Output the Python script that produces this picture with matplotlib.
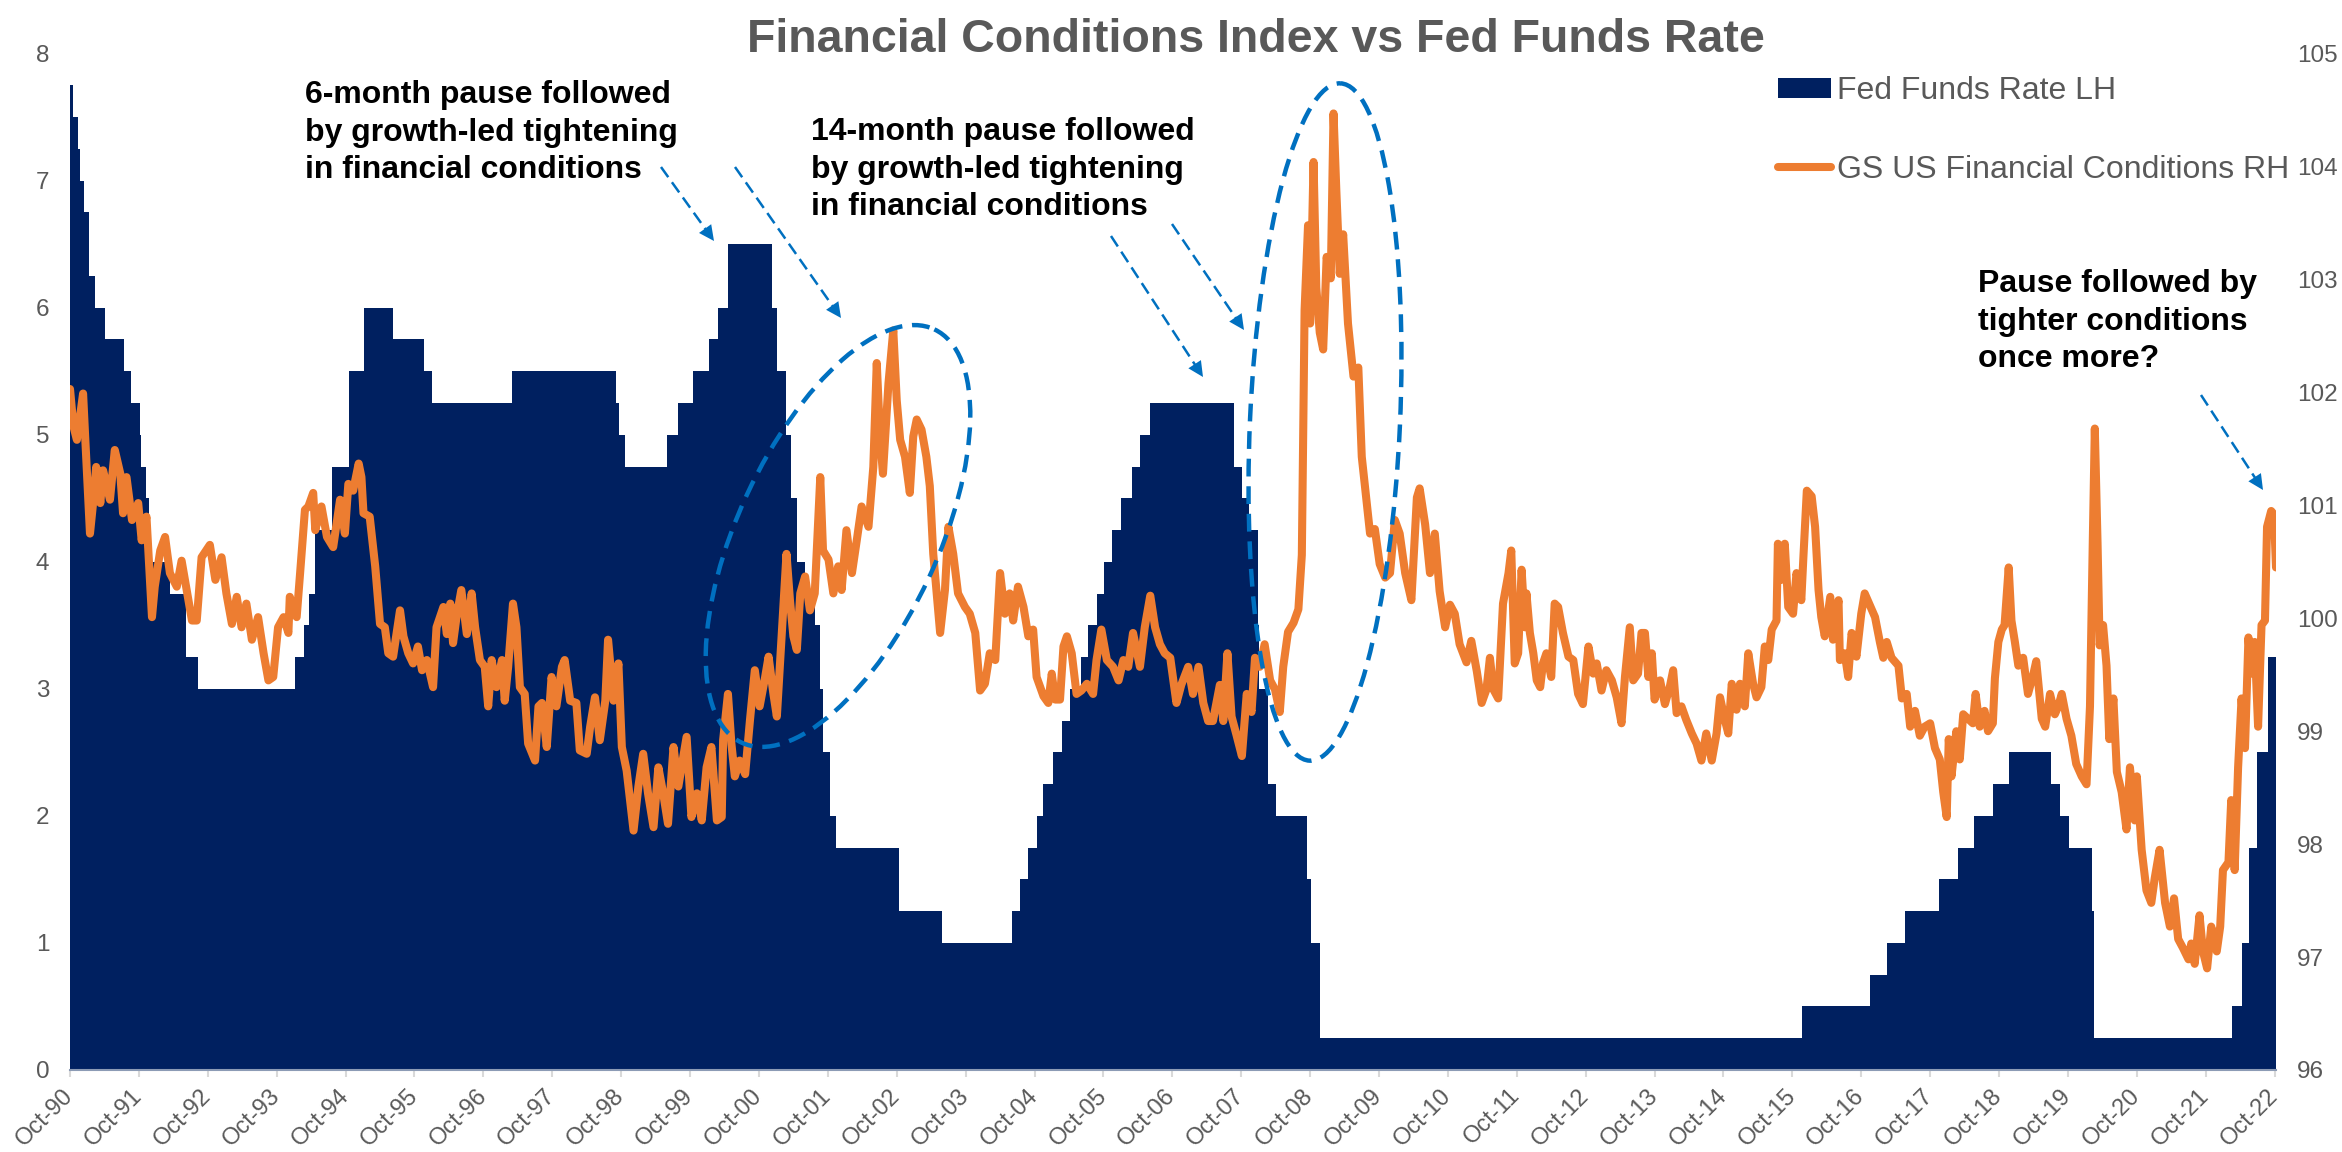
import matplotlib
matplotlib.use('Agg')
import matplotlib.pyplot as plt
import matplotlib.transforms as mtransforms
from matplotlib.patches import Ellipse, Patch, FancyArrowPatch
from matplotlib.lines import Line2D

plt.rcParams['font.family'] = ['Liberation Sans', 'DejaVu Sans']

# Fed funds target (upper bound), change points as placed on the chart's time axis
ff_years = [1990.75, 1990.80, 1990.86, 1990.89, 1990.95, 1991.02, 1991.11, 1991.26, 1991.53, 1991.63,
            1991.76, 1991.78, 1991.86, 1991.90, 1992.20, 1992.43, 1992.61, 1994.02, 1994.15, 1994.22,
            1994.30, 1994.55, 1994.80, 1995.02, 1995.44, 1995.89, 1996.01, 1997.16, 1998.67, 1998.72,
            1998.81, 1999.42, 1999.58, 1999.80, 2000.02, 2000.15, 2000.30, 2000.94, 2001.01, 2001.14,
            2001.22, 2001.30, 2001.42, 2001.57, 2001.64, 2001.68, 2001.78, 2001.87, 2002.78, 2003.41,
            2004.43, 2004.54, 2004.65, 2004.79, 2004.88, 2005.02, 2005.15, 2005.26, 2005.42, 2005.53,
            2005.65, 2005.76, 2005.88, 2006.01, 2006.17, 2006.28, 2006.42, 2007.64, 2007.76, 2007.87,
            2007.99, 2008.01, 2008.14, 2008.26, 2008.70, 2008.76, 2008.89, 2015.89, 2016.88, 2017.13,
            2017.38, 2017.88, 2018.15, 2018.38, 2018.66, 2018.89, 2019.51, 2019.64, 2019.76, 2020.10,
            2020.13, 2022.13, 2022.27, 2022.38, 2022.50, 2022.65, 2022.77]
ff_rates = [7.75, 7.5, 7.25, 7.0, 6.75, 6.25, 6.0, 5.75, 5.5, 5.25,
            5.0, 4.75, 4.5, 4.0, 3.75, 3.25, 3.0, 3.25, 3.5, 3.75,
            4.25, 4.75, 5.5, 6.0, 5.75, 5.5, 5.25, 5.5, 5.25, 5.0,
            4.75, 5.0, 5.25, 5.5, 5.75, 6.0, 6.5, 6.0, 5.5, 5.0,
            4.5, 4.0, 3.75, 3.5, 3.0, 2.5, 2.0, 1.75, 1.25, 1.0,
            1.25, 1.5, 1.75, 2.0, 2.25, 2.5, 2.75, 3.0, 3.25, 3.5,
            3.75, 4.0, 4.25, 4.5, 4.75, 5.0, 5.25, 4.75, 4.5, 4.25,
            3.5, 3.0, 2.25, 2.0, 1.5, 1.0, 0.25, 0.5, 0.75, 1.0,
            1.25, 1.5, 1.75, 2.0, 2.25, 2.5, 2.25, 2.0, 1.75, 1.25,
            0.25, 0.5, 1.0, 1.75, 2.5, 3.25, 3.25]

# GS US Financial Conditions Index
fci_years = [
    1990.75, 1990.80, 1990.85, 1990.94, 1990.97, 1991.04, 1991.09, 1991.13, 1991.19, 1991.23,
    1991.33, 1991.40, 1991.48, 1991.52, 1991.57, 1991.65, 1991.74, 1991.79, 1991.86, 1991.94,
    1991.98, 1992.06, 1992.13, 1992.20, 1992.30, 1992.37, 1992.47, 1992.52, 1992.59, 1992.66,
    1992.78, 1992.86, 1992.95, 1993.02, 1993.10, 1993.17, 1993.24, 1993.31, 1993.39, 1993.48,
    1993.56, 1993.63, 1993.70, 1993.77, 1993.85, 1993.92, 1993.94, 1994.04, 1994.09, 1994.16,
    1994.21, 1994.28, 1994.31, 1994.40, 1994.48, 1994.57, 1994.67, 1994.74, 1994.79, 1994.86,
    1994.94, 1994.98, 1995.01, 1995.10, 1995.18, 1995.25, 1995.32, 1995.37, 1995.44, 1995.54,
    1995.59, 1995.66, 1995.73, 1995.80, 1995.86, 1995.93, 1996.02, 1996.07, 1996.17, 1996.22,
    1996.27, 1996.31, 1996.36, 1996.43, 1996.51, 1996.58, 1996.63, 1996.70, 1996.77, 1996.82,
    1996.87, 1996.94, 1997.02, 1997.06, 1997.11, 1997.18, 1997.23, 1997.28, 1997.35, 1997.40,
    1997.50, 1997.55, 1997.60, 1997.67, 1997.74, 1997.81, 1997.89, 1997.93, 1998.01, 1998.10,
    1998.15, 1998.25, 1998.30, 1998.37, 1998.44, 1998.52, 1998.56, 1998.64, 1998.71, 1998.76,
    1998.83, 1998.93, 1999.00, 1999.07, 1999.14, 1999.22, 1999.29, 1999.36, 1999.43, 1999.51,
    1999.58, 1999.70, 1999.77, 1999.85, 1999.92, 1999.99, 2000.06, 2000.14, 2000.21, 2000.23,
    2000.30, 2000.35, 2000.40, 2000.47, 2000.55, 2000.62, 2000.69, 2000.76, 2000.84, 2000.89,
    2000.96, 2001.01, 2001.15, 2001.20, 2001.25, 2001.30, 2001.35, 2001.42, 2001.49, 2001.56,
    2001.64, 2001.68, 2001.76, 2001.83, 2001.90, 2001.95, 2002.02, 2002.10, 2002.17, 2002.24,
    2002.34, 2002.41, 2002.46, 2002.51, 2002.55, 2002.63, 2002.70, 2002.75, 2002.80, 2002.87,
    2002.94, 2002.99, 2003.04, 2003.11, 2003.18, 2003.23, 2003.28, 2003.33, 2003.38, 2003.45,
    2003.50, 2003.57, 2003.64, 2003.74, 2003.81, 2003.89, 2003.96, 2004.03, 2004.10, 2004.18,
    2004.25, 2004.32, 2004.39, 2004.44, 2004.51, 2004.59, 2004.66, 2004.73, 2004.78, 2004.88,
    2004.95, 2005.00, 2005.05, 2005.12, 2005.17, 2005.22, 2005.29, 2005.36, 2005.43, 2005.51,
    2005.60, 2005.65, 2005.72, 2005.80, 2005.89, 2005.97, 2006.04, 2006.11, 2006.18, 2006.28,
    2006.35, 2006.43, 2006.50, 2006.57, 2006.64, 2006.72, 2006.81, 2006.88, 2006.98, 2007.05,
    2007.13, 2007.20, 2007.27, 2007.34, 2007.44, 2007.49, 2007.55, 2007.61, 2007.68, 2007.76,
    2007.83, 2007.90, 2007.95, 2008.02, 2008.09, 2008.17, 2008.24, 2008.31, 2008.36, 2008.43,
    2008.51, 2008.58, 2008.63, 2008.67, 2008.72, 2008.75, 2008.80, 2008.84, 2008.89, 2008.94,
    2008.99, 2009.05, 2009.09, 2009.13, 2009.18, 2009.23, 2009.30, 2009.38, 2009.45, 2009.50,
    2009.57, 2009.62, 2009.69, 2009.76, 2009.84, 2009.91, 2009.98, 2010.05, 2010.13, 2010.22,
    2010.30, 2010.34, 2010.42, 2010.49, 2010.56, 2010.63, 2010.71, 2010.78, 2010.85, 2010.92,
    2011.02, 2011.09, 2011.17, 2011.24, 2011.31, 2011.36, 2011.41, 2011.48, 2011.55, 2011.63,
    2011.67, 2011.72, 2011.77, 2011.82, 2011.87, 2011.89, 2011.94, 2011.99, 2012.04, 2012.09,
    2012.13, 2012.18, 2012.25, 2012.30, 2012.35, 2012.42, 2012.50, 2012.57, 2012.64, 2012.71,
    2012.79, 2012.86, 2012.91, 2012.98, 2013.05, 2013.13, 2013.20, 2013.27, 2013.32, 2013.39,
    2013.44, 2013.51, 2013.56, 2013.61, 2013.66, 2013.71, 2013.75, 2013.83, 2013.90, 2013.97,
    2014.02, 2014.07, 2014.14, 2014.21, 2014.29, 2014.36, 2014.43, 2014.50, 2014.58, 2014.65,
    2014.70, 2014.77, 2014.82, 2014.87, 2014.94, 2014.99, 2015.06, 2015.11, 2015.18, 2015.23,
    2015.30, 2015.35, 2015.40, 2015.45, 2015.52, 2015.54, 2015.59, 2015.64, 2015.69, 2015.76,
    2015.81, 2015.88, 2015.91, 2015.96, 2016.03, 2016.08, 2016.13, 2016.17, 2016.22, 2016.30,
    2016.34, 2016.42, 2016.44, 2016.51, 2016.56, 2016.61, 2016.68, 2016.75, 2016.80, 2016.95,
    2017.02, 2017.07, 2017.12, 2017.19, 2017.29, 2017.34, 2017.41, 2017.46, 2017.53, 2017.60,
    2017.67, 2017.75, 2017.82, 2017.89, 2017.94, 2017.99, 2018.02, 2018.06, 2018.13, 2018.18,
    2018.23, 2018.30, 2018.37, 2018.41, 2018.47, 2018.54, 2018.59, 2018.66, 2018.69, 2018.74,
    2018.79, 2018.83, 2018.89, 2018.93, 2018.98, 2019.03, 2019.10, 2019.17, 2019.25, 2019.29,
    2019.37, 2019.42, 2019.49, 2019.56, 2019.61, 2019.66, 2019.73, 2019.80, 2019.87, 2019.95,
    2020.02, 2020.07, 2020.11, 2020.14, 2020.18, 2020.21, 2020.26, 2020.31, 2020.35, 2020.41,
    2020.46, 2020.53, 2020.60, 2020.65, 2020.72, 2020.75, 2020.82, 2020.89, 2020.96, 2021.01,
    2021.08, 2021.16, 2021.23, 2021.29, 2021.35, 2021.42, 2021.50, 2021.54, 2021.59, 2021.66,
    2021.71, 2021.77, 2021.83, 2021.91, 2021.96, 2022.00, 2022.08, 2022.12, 2022.17, 2022.22,
    2022.27, 2022.32, 2022.37, 2022.41, 2022.46, 2022.51, 2022.56, 2022.61, 2022.64, 2022.70,
    2022.74, 2022.77]
fci_values = [
    102.03, 101.70, 101.58, 101.99, 101.61, 100.75, 101.05, 101.34, 101.02, 101.31,
    101.05, 101.49, 101.28, 100.93, 101.25, 100.87, 101.02, 100.69, 100.90, 100.01,
    100.28, 100.60, 100.72, 100.40, 100.28, 100.51, 100.16, 99.98, 99.98, 100.54,
    100.65, 100.34, 100.54, 100.22, 99.95, 100.19, 99.92, 100.13, 99.81, 100.01,
    99.69, 99.45, 99.48, 99.92, 100.01, 99.87, 100.19, 100.01, 100.40, 100.96,
    100.99, 101.11, 100.78, 100.99, 100.72, 100.63, 101.05, 100.75, 101.19, 101.13,
    101.37, 101.25, 100.93, 100.90, 100.46, 99.95, 99.92, 99.69, 99.66, 100.07,
    99.84, 99.69, 99.60, 99.75, 99.54, 99.63, 99.39, 99.92, 100.10, 99.86,
    100.13, 99.78, 100.01, 100.25, 99.86, 100.22, 99.92, 99.63, 99.57, 99.22,
    99.63, 99.39, 99.63, 99.27, 99.57, 100.13, 99.92, 99.39, 99.33, 98.89,
    98.74, 99.22, 99.25, 98.86, 99.48, 99.22, 99.57, 99.63, 99.27, 99.25,
    98.83, 98.80, 99.04, 99.30, 98.92, 99.27, 99.81, 99.27, 99.60, 98.86,
    98.65, 98.12, 98.51, 98.80, 98.45, 98.15, 98.68, 98.45, 98.18, 98.86,
    98.51, 98.95, 98.24, 98.45, 98.21, 98.68, 98.86, 98.21, 98.24, 98.92,
    99.33, 98.89, 98.60, 98.74, 98.62, 99.10, 99.54, 99.22, 99.48, 99.66,
    99.33, 99.13, 100.57, 100.16, 99.84, 99.72, 100.22, 100.37, 100.07, 100.22,
    101.25, 100.60, 100.52, 100.22, 100.46, 100.25, 100.78, 100.40, 100.69, 100.99,
    100.81, 101.34, 102.26, 101.58, 101.28, 102.08, 102.55, 101.93, 101.58, 101.43,
    101.11, 101.61, 101.76, 101.67, 101.43, 101.17, 100.57, 100.22, 99.87, 100.25,
    100.81, 100.57, 100.22, 100.10, 100.04, 99.87, 99.36, 99.42, 99.69, 99.63,
    100.40, 100.04, 100.22, 99.98, 100.28, 100.10, 99.84, 99.90, 99.48, 99.31,
    99.25, 99.51, 99.28, 99.28, 99.75, 99.84, 99.69, 99.33, 99.36, 99.42,
    99.33, 99.63, 99.90, 99.63, 99.57, 99.45, 99.63, 99.57, 99.87, 99.57,
    99.92, 100.20, 99.92, 99.77, 99.69, 99.65, 99.25, 99.41, 99.57, 99.33,
    99.57, 99.25, 99.09, 99.09, 99.41, 99.09, 99.69, 99.13, 98.97, 98.78,
    99.33, 99.17, 99.65, 99.57, 99.77, 99.45, 99.37, 99.17, 99.57, 99.88,
    99.96, 100.08, 100.56, 102.73, 103.48, 102.61, 104.04, 102.93, 102.53, 102.38,
    103.20, 103.01, 104.47, 103.80, 103.05, 103.40, 102.61, 102.14, 102.22, 101.43,
    101.03, 100.75, 100.79, 100.48, 100.36, 100.40, 100.87, 100.75, 100.40, 100.16,
    101.07, 101.15, 100.83, 100.40, 100.75, 100.24, 99.92, 100.12, 100.04, 99.77,
    99.61, 99.80, 99.53, 99.25, 99.37, 99.65, 99.37, 99.29, 100.13, 100.40,
    100.60, 99.60, 99.69, 100.43, 99.92, 100.22, 99.87, 99.69, 99.45, 99.39,
    99.60, 99.69, 99.48, 100.13, 100.10, 99.87, 99.66, 99.63, 99.33, 99.24,
    99.75, 99.51, 99.60, 99.36, 99.54, 99.45, 99.30, 99.07, 99.48, 99.92,
    99.45, 99.51, 99.87, 99.87, 99.48, 99.69, 99.28, 99.45, 99.24, 99.39,
    99.54, 99.16, 99.22, 99.10, 98.98, 98.89, 98.74, 98.98, 98.74, 98.98,
    99.30, 99.10, 98.98, 99.42, 99.19, 99.42, 99.22, 99.69, 99.42, 99.30,
    99.39, 99.75, 99.63, 99.90, 99.98, 100.66, 100.34, 100.66, 100.10, 100.04,
    100.40, 100.16, 100.54, 101.13, 101.08, 100.81, 100.25, 100.01, 99.84, 100.19,
    99.81, 100.16, 99.63, 99.69, 99.48, 99.87, 99.66, 100.04, 100.22, 100.01,
    99.79, 99.65, 99.79, 99.65, 99.58, 99.29, 99.33, 99.04, 99.18, 98.96,
    99.04, 99.07, 98.85, 98.75, 98.46, 98.24, 98.93, 98.60, 99.00, 98.75,
    99.15, 99.11, 99.07, 99.33, 99.04, 99.18, 99.00, 99.07, 99.47, 99.79,
    99.90, 99.94, 100.45, 99.98, 99.79, 99.58, 99.65, 99.33, 99.51, 99.62,
    99.11, 99.04, 99.33, 99.15, 99.22, 99.33, 99.11, 98.96, 98.71, 98.60,
    98.53, 99.22, 100.66, 101.68, 100.66, 99.76, 99.94, 99.58, 98.93, 99.29,
    98.64, 98.46, 98.13, 98.68, 98.21, 98.60, 97.95, 97.59, 97.48, 97.70,
    97.95, 97.48, 97.27, 97.52, 97.16, 97.08, 96.98, 97.12, 96.94, 97.37,
    97.05, 96.90, 97.27, 97.05, 97.27, 97.77, 97.84, 98.39, 97.77, 98.68,
    99.29, 98.85, 99.83, 99.51, 99.79, 99.04, 99.94, 99.98, 100.81, 100.95,
    100.92, 100.45]

tick_years = [1990.75, 1991.75, 1992.75, 1993.75, 1994.75, 1995.75, 1996.75, 1997.75, 1998.75,
              1999.75, 2000.75, 2001.75, 2002.75, 2003.75, 2004.75, 2005.75, 2006.75, 2007.75,
              2008.75, 2009.75, 2010.75, 2011.75, 2012.75, 2013.75, 2014.75, 2015.75, 2016.75,
              2017.75, 2018.75, 2019.75, 2020.75, 2021.75, 2022.75]
tick_labels = ['Oct-90', 'Oct-91', 'Oct-92', 'Oct-93', 'Oct-94', 'Oct-95', 'Oct-96', 'Oct-97',
               'Oct-98', 'Oct-99', 'Oct-00', 'Oct-01', 'Oct-02', 'Oct-03', 'Oct-04', 'Oct-05',
               'Oct-06', 'Oct-07', 'Oct-08', 'Oct-09', 'Oct-10', 'Oct-11', 'Oct-12', 'Oct-13',
               'Oct-14', 'Oct-15', 'Oct-16', 'Oct-17', 'Oct-18', 'Oct-19', 'Oct-20', 'Oct-21',
               'Oct-22']

NAVY = '#002060'
ORANGE = '#ED7D31'
BLUE = '#0070C0'
GREY = '#595959'
W, H = 2342, 1152

fig = plt.figure(figsize=(W / 100, H / 100), dpi=100)
ax = fig.add_axes([70 / W, 1 - 1070 / H, (2276 - 70) / W, (1070 - 53.6) / H])
ax2 = ax.twinx()

# image-pixel coordinates (y downwards) for the callouts
px = mtransforms.Affine2D().scale(1 / W, -1 / H).translate(0, 1) + fig.transFigure

ax.fill_between(ff_years, ff_rates, step='post', color=NAVY, lw=0)
ax2.plot(fci_years, fci_values, color=ORANGE, lw=5.8, solid_joinstyle='round', solid_capstyle='round')

ax.set_xlim(1990.75, 2022.77)
ax.set_ylim(0, 8)
ax2.set_ylim(96, 105)
ax.set_yticks(range(0, 9))
ax2.set_yticks(range(96, 106))
ax.set_xticks(tick_years)
ax.set_xticklabels(tick_labels, rotation=45, ha='right', va='center', rotation_mode='anchor')

for a in (ax, ax2):
    for s in ('top', 'left', 'right', 'bottom'):
        a.spines[s].set_visible(False)
ax.spines['bottom'].set_visible(True)
ax.spines['bottom'].set_color('#8C9BB5')
ax.spines['bottom'].set_linewidth(1.5)
ax.tick_params(axis='x', length=5, width=1.5, color='#D9D9D9', labelsize=17, labelcolor=GREY, pad=11)
ax.tick_params(axis='y', length=0, labelsize=17.5, labelcolor=GREY, pad=15)
ax2.tick_params(axis='y', length=0, labelsize=17.5, labelcolor=GREY, pad=15)

handles = [Patch(facecolor=NAVY, edgecolor='none'),
           Line2D([], [], color=ORANGE, lw=5.8, solid_capstyle='round')]
ax2.legend(handles, ['Fed Funds Rate LH', 'GS US Financial Conditions RH'],
           loc='upper left', bbox_to_anchor=(1778 / W, 1 - 76 / H), bbox_transform=fig.transFigure,
           frameon=False, fontsize=23, labelcolor=GREY, handlelength=1.66, handleheight=0.6,
           handletextpad=0.2, labelspacing=1.52, borderpad=0, borderaxespad=0)

fig.text(1256, 52, 'Financial Conditions Index vs Fed Funds Rate', transform=px,
         ha='center', va='baseline', fontsize=33.5, fontweight='bold', color=GREY)

# (left, top of first line, text) in image pixels
notes = [
    (305, 80, '6-month pause followed\nby growth-led tightening\nin financial conditions'),
    (811, 117, '14-month pause followed\nby growth-led tightening\nin financial conditions'),
    (1978, 269, 'Pause followed by\ntighter conditions\nonce more?'),
]
for x, y, s in notes:
    fig.text(x, y, s, transform=px, ha='left', va='top', fontsize=23,
             fontweight='bold', color='black', linespacing=1.33)

arrows = [
    (661, 167, 714, 241),
    (735, 167, 841, 318),
    (1111, 236, 1203, 377),
    (1172, 224, 1244, 330),
    (2201, 395, 2263, 490),
]
for x0, y0, x1, y1 in arrows:
    d = ((x1 - x0) ** 2 + (y1 - y0) ** 2) ** 0.5
    xb = x1 - (x1 - x0) * 14 / d
    yb = y1 - (y1 - y0) * 14 / d
    fig.add_artist(Line2D([x0, xb], [y0, yb], transform=px, color=BLUE, lw=1.8,
                          linestyle=(0, (5, 2.5))))
    fig.add_artist(FancyArrowPatch(
        (xb - (x1 - x0) * 2 / d, yb - (y1 - y0) * 2 / d), (x1, y1), transform=px,
        arrowstyle='-|>,head_length=0.55,head_width=0.27', mutation_scale=20,
        color=BLUE, lw=0, shrinkA=0, shrinkB=0))

ellipses = [
    ((838, 536), 200, 456, 25),
    ((1325, 422), 150, 678, 2.6),
]
for c, w, h, ang in ellipses:
    fig.add_artist(Ellipse(c, w, h, angle=ang, transform=px, fill=False, edgecolor=BLUE,
                           lw=3.2, linestyle=(0, (4, 2.2))))

fig.savefig('out.png', dpi=100)
